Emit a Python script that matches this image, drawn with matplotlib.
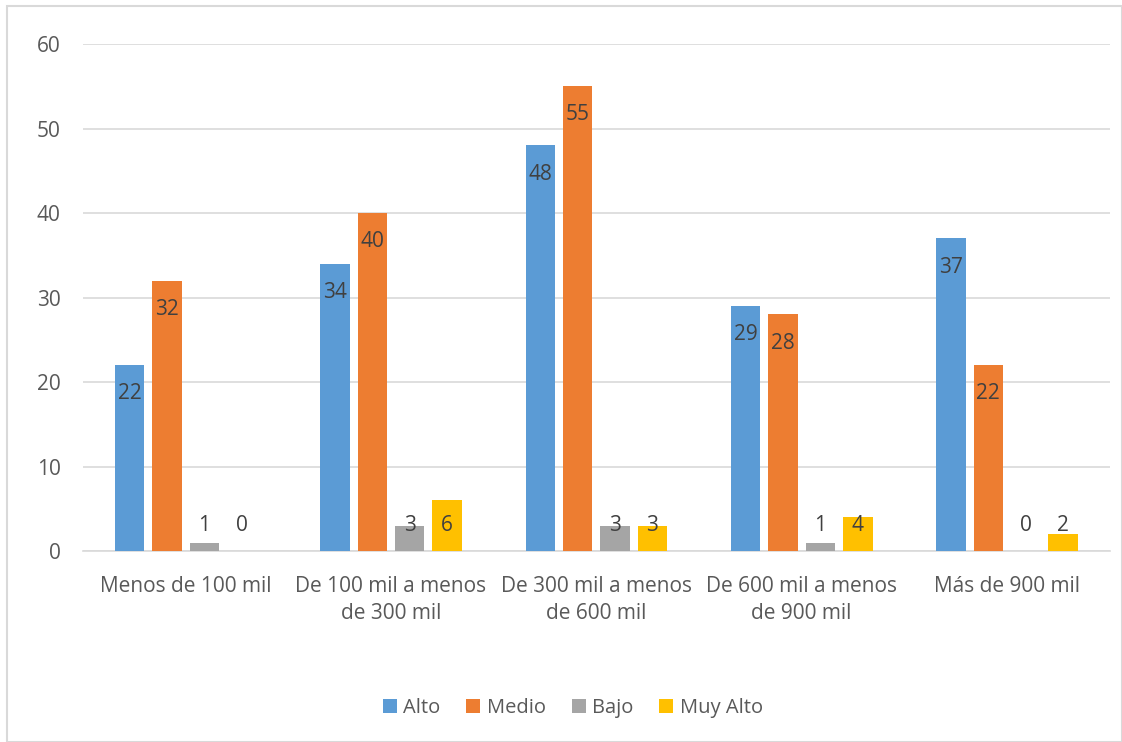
import matplotlib
matplotlib.use('Agg')
import matplotlib.pyplot as plt
from matplotlib.patches import Rectangle
import numpy as np

categorias = ['Menos de 100 mil', 'De 100 mil a menos\nde 300 mil', 'De 300 mil a menos\nde 600 mil',
              'De 600 mil a menos\nde 900 mil', 'Más de 900 mil']
series = ['Alto', 'Medio', 'Bajo', 'Muy Alto']
alto = [22, 34, 48, 29, 37]
medio = [32, 40, 55, 28, 22]
bajo = [1, 3, 3, 1, 0]
muy_alto = [0, 6, 3, 4, 2]
colores = ['#5B9BD5', '#ED7D31', '#A5A5A5', '#FFC000']

plt.rcParams['font.family'] = ['Open Sans', 'DejaVu Sans']

fig = plt.figure(figsize=(11.22, 7.42), dpi=100)
ax = fig.add_axes([0.074, 0.2574, 0.915, 0.6833])

x = np.arange(len(categorias))
ancho = 0.144
paso = 0.182
for i, (nombre, valores, color) in enumerate(zip(series, [alto, medio, bajo, muy_alto], colores)):
    pos = x + (i - 1.5) * paso
    ax.bar(pos, valores, ancho, color=color, label=nombre, zorder=3)
    # etiqueta dentro del extremo; si la barra es baja queda encima
    for p, v in zip(pos, valores):
        y = max(v - 3.4, 3.05)
        ax.text(p, y, str(v), ha='center', va='center', fontsize=15, color='#404040', zorder=4)

ax.set_xlim(-0.5, len(categorias) - 0.5)
ax.set_ylim(0, 60)
ax.set_yticks(range(0, 61, 10))
ax.yaxis.grid(True, color='#D9D9D9', linewidth=1.2, zorder=0)
for s in ['top', 'right', 'left']:
    ax.spines[s].set_visible(False)
ax.spines['bottom'].set_color('#D9D9D9')
ax.spines['bottom'].set_linewidth(1.2)
ax.tick_params(axis='both', length=0, labelsize=15, colors='#595959')
ax.tick_params(axis='y', pad=16)
ax.tick_params(axis='x', pad=18)
ax.set_xticks(x)
ax.set_xticklabels(categorias, linespacing=1.35)

ax.legend(loc='center', bbox_to_anchor=(0.477, -(708 - 551) / 507), ncol=4, frameon=False,
          fontsize=14.5, handlelength=0.7, handleheight=0.7, handletextpad=0.3, columnspacing=1.3,
          labelcolor='#595959')

fig.patches.append(Rectangle((7 / 1122, 0), 1 - 7 / 1122, 1 - 6 / 742, transform=fig.transFigure,
                             fill=False, edgecolor='#D9D9D9', linewidth=1.5))

fig.savefig('out.png', dpi=100)
